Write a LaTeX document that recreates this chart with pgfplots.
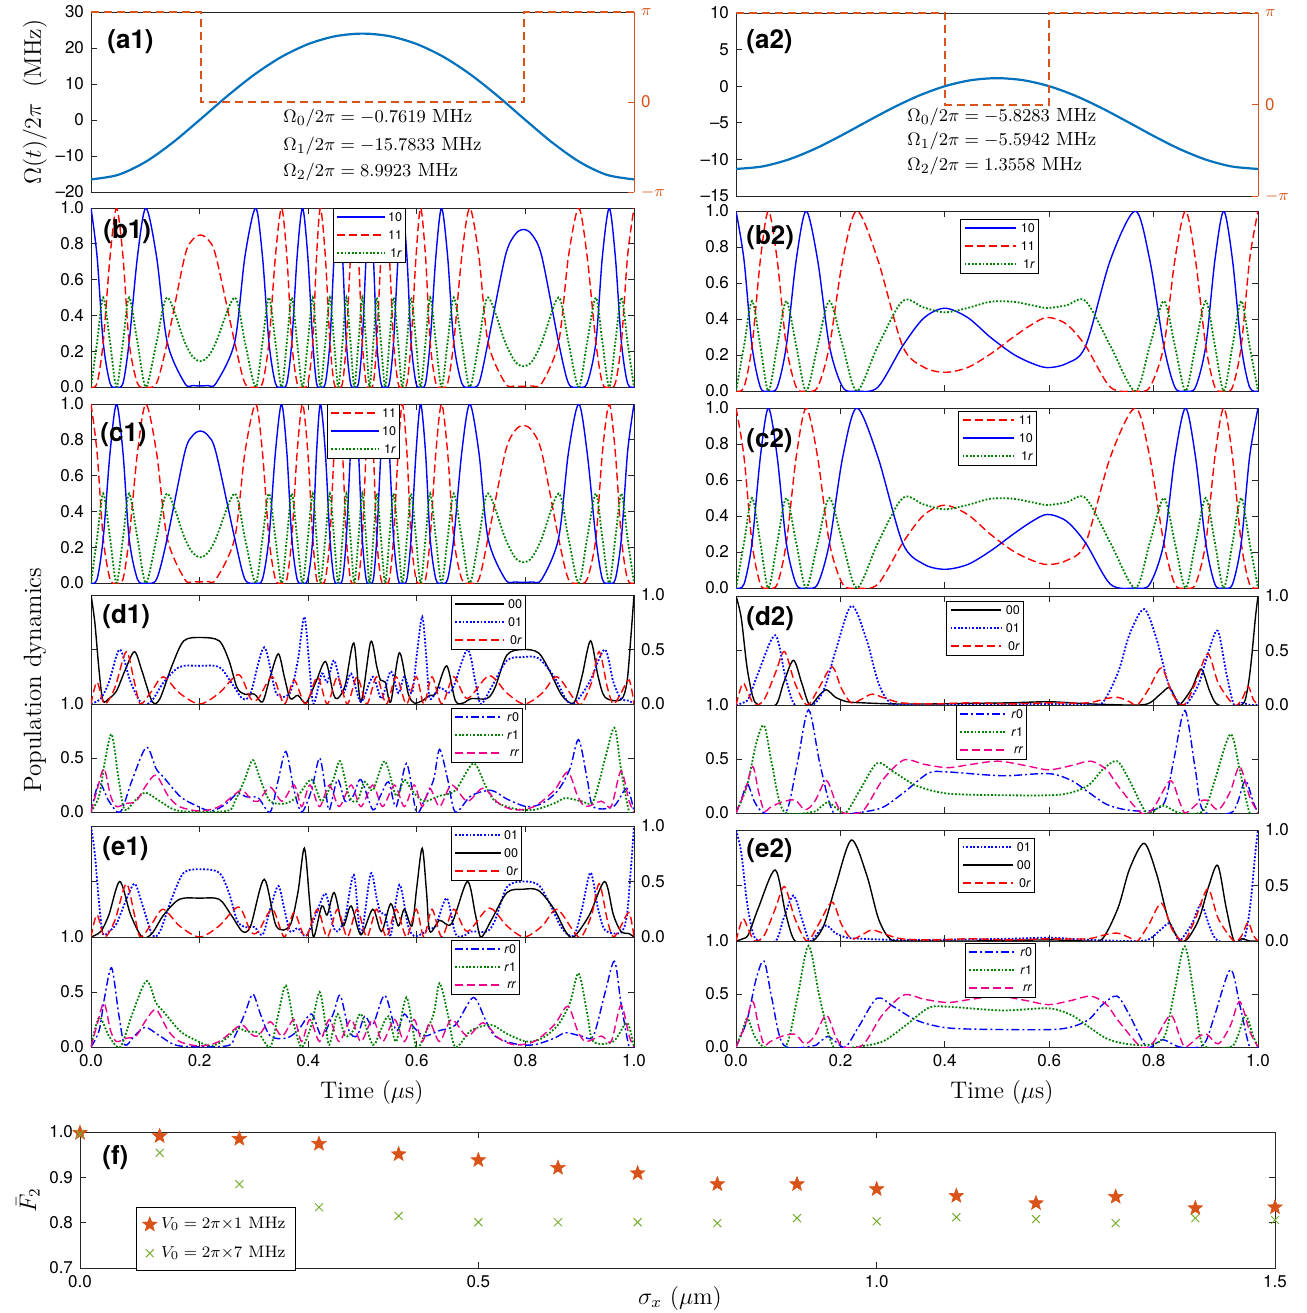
\documentclass[border=0pt]{standalone}
\usepackage{fontspec}
\setsansfont{TeX Gyre Heros}
\usepackage{pgfplots}
\usepackage{pgfplotstable}
\pgfplotsset{compat=1.18}
\definecolor{mblue}{RGB}{0,114,189}
\definecolor{morange}{RGB}{217,83,25}
\definecolor{mgreen}{RGB}{119,172,48}
\definecolor{dgreen}{RGB}{0,128,0}

\pgfdeclareplotmark{fstar}{%
  \pgfpathmoveto{\pgfpointpolar{90}{\pgfplotmarksize}}%
  \pgfpathlineto{\pgfpointpolar{126}{0.42\pgfplotmarksize}}%
  \pgfpathlineto{\pgfpointpolar{162}{\pgfplotmarksize}}%
  \pgfpathlineto{\pgfpointpolar{198}{0.42\pgfplotmarksize}}%
  \pgfpathlineto{\pgfpointpolar{234}{\pgfplotmarksize}}%
  \pgfpathlineto{\pgfpointpolar{270}{0.42\pgfplotmarksize}}%
  \pgfpathlineto{\pgfpointpolar{306}{\pgfplotmarksize}}%
  \pgfpathlineto{\pgfpointpolar{342}{0.42\pgfplotmarksize}}%
  \pgfpathlineto{\pgfpointpolar{18}{\pgfplotmarksize}}%
  \pgfpathlineto{\pgfpointpolar{54}{0.42\pgfplotmarksize}}%
  \pgfpathclose\pgfusepathqfillstroke}

% (b1)/(c1): t, P10, P11, P1r
\pgfplotstableread[row sep=\\]{t a b c\\
0.0000 1 0 0\\ 0.0112 0.729 0.021 0.25\\ 0.0225 0.25 0.25 0.5\\ 0.0351 0.021 0.729 0.25\\ 0.0470 0 1 0\\
0.0589 0.021 0.729 0.25\\ 0.0702 0.25 0.25 0.5\\ 0.0856 0.729 0.021 0.25\\ 0.1011 1 0 0\\ 0.1207 0.729 0.021 0.25\\
0.1404 0.25 0.25 0.5\\ 0.1726 0.021 0.729 0.25\\ 0.1874 0.0085 0.824 0.169\\ 0.2014 0.0061 0.849 0.144\\ 0.2154 0.0085 0.824 0.169\\
0.2302 0.021 0.729 0.25\\ 0.2646 0.25 0.25 0.5\\ 0.2835 0.729 0.021 0.25\\ 0.3032 1 0 0\\ 0.3158 0.729 0.021 0.25\\
0.3277 0.25 0.25 0.5\\ 0.3396 0.021 0.729 0.25\\ 0.3509 0 1 0\\ 0.3607 0.021 0.729 0.25\\ 0.3698 0.25 0.25 0.5\\
0.3796 0.729 0.021 0.25\\ 0.3895 1 0 0\\ 0.3993 0.729 0.021 0.25\\ 0.4084 0.25 0.25 0.5\\ 0.4154 0.021 0.729 0.25\\
0.4225 0 1 0\\ 0.4316 0.021 0.729 0.25\\ 0.4400 0.25 0.25 0.5\\ 0.4477 0.729 0.021 0.25\\ 0.4554 1 0 0\\
0.4632 0.729 0.021 0.25\\ 0.4702 0.25 0.25 0.5\\ 0.4779 0.021 0.729 0.25\\ 0.4849 0 1 0\\ 0.4926 0.021 0.729 0.25\\
0.4996 0.25 0.25 0.5\\ 0.5067 0.729 0.021 0.25\\ 0.5130 1 0 0\\ 0.5200 0.729 0.021 0.25\\ 0.5263 0.25 0.25 0.5\\
0.5340 0.021 0.729 0.25\\ 0.5418 0 1 0\\ 0.5495 0.021 0.729 0.25\\ 0.5572 0.25 0.25 0.5\\ 0.5656 0.729 0.021 0.25\\
0.5733 1 0 0\\ 0.5818 0.729 0.021 0.25\\ 0.5895 0.25 0.25 0.5\\ 0.5986 0.021 0.729 0.25\\ 0.6070 0 1 0\\
0.6161 0.021 0.729 0.25\\ 0.6246 0.25 0.25 0.5\\ 0.6351 0.729 0.021 0.25\\ 0.6456 1 0 0\\ 0.6568 0.729 0.021 0.25\\
0.6681 0.25 0.25 0.5\\ 0.6828 0.021 0.729 0.25\\ 0.6975 0 1 0\\ 0.7144 0.021 0.729 0.25\\ 0.7312 0.25 0.25 0.5\\
0.7628 0.729 0.021 0.25\\ 0.7811 0.852 0.0059 0.142\\ 0.7965 0.880 0.0038 0.116\\ 0.8119 0.852 0.0059 0.142\\ 0.8302 0.729 0.021 0.25\\
0.8611 0.25 0.25 0.5\\ 0.8793 0.021 0.729 0.25\\ 0.8982 0 1 0\\ 0.9137 0.021 0.729 0.25\\ 0.9298 0.25 0.25 0.5\\
0.9418 0.729 0.021 0.25\\ 0.9544 1 0 0\\ 0.9656 0.729 0.021 0.25\\ 0.9768 0.25 0.25 0.5\\ 0.9881 0.021 0.729 0.25\\
1.0000 0 1 0\\
}\tbA

% (b2)/(c2)
\pgfplotstableread[row sep=\\]{t a b c\\
0.0000 1 0 0\\ 0.0153 0.729 0.021 0.25\\ 0.0307 0.25 0.25 0.5\\ 0.0467 0.021 0.729 0.25\\ 0.0621 0 1 0\\
0.0789 0.021 0.729 0.25\\ 0.0964 0.25 0.25 0.5\\ 0.1154 0.729 0.021 0.25\\ 0.1344 1 0 0\\ 0.1563 0.729 0.021 0.25\\
0.1790 0.25 0.25 0.5\\ 0.2045 0.021 0.729 0.25\\ 0.2316 0 1 0\\ 0.2717 0.021 0.729 0.25\\ 0.3192 0.25 0.25 0.5\\
0.3594 0.404 0.133 0.464\\ 0.3996 0.460 0.104 0.437\\ 0.4434 0.409 0.130 0.461\\ 0.4872 0.299 0.205 0.496\\ 0.5310 0.205 0.299 0.496\\
0.5676 0.153 0.371 0.476\\ 0.5968 0.130 0.409 0.461\\ 0.6333 0.153 0.371 0.476\\ 0.6698 0.25 0.25 0.5\\ 0.7173 0.729 0.021 0.25\\
0.7648 1 0 0\\ 0.7926 0.729 0.021 0.25\\ 0.8196 0.25 0.25 0.5\\ 0.8408 0.021 0.729 0.25\\ 0.8612 0 1 0\\
0.8802 0.021 0.729 0.25\\ 0.8999 0.25 0.25 0.5\\ 0.9175 0.729 0.021 0.25\\ 0.9343 1 0 0\\ 0.9511 0.729 0.021 0.25\\
0.9679 0.25 0.25 0.5\\ 0.9839 0.021 0.729 0.25\\ 1.0000 0 1 0\\
}\tbB

% (d1) series
\pgfplotstableread[row sep=\\]{t v\\
0 1.0\\ 0.007 0.75\\ 0.015 0.3\\ 0.022 0.03\\ 0.033 0.05\\ 0.047 0.12\\ 0.062 0.3\\ 0.080 0.48\\ 0.094 0.3\\ 0.113 0.02\\
0.127 0.05\\ 0.149 0.35\\ 0.171 0.58\\ 0.203 0.61\\ 0.236 0.58\\ 0.254 0.4\\ 0.269 0.15\\ 0.283 0.09\\ 0.301 0.09\\ 0.316 0.02\\
0.330 0.25\\ 0.345 0.46\\ 0.356 0.25\\ 0.367 0.05\\ 0.381 0.08\\ 0.396 0.01\\ 0.414 0.2\\ 0.432 0.39\\ 0.446 0.1\\ 0.454 0.05\\
0.468 0.17\\ 0.484 0.56\\ 0.497 0.02\\ 0.515 0.57\\ 0.526 0.35\\ 0.533 0.22\\ 0.542 0.2\\ 0.552 0.02\\ 0.568 0.47\\ 0.584 0.1\\
0.595 0.01\\ 0.610 0.03\\ 0.624 0.08\\ 0.635 0.1\\ 0.655 0.35\\ 0.671 0.03\\ 0.686 0.01\\ 0.700 0.05\\ 0.729 0.05\\ 0.744 0.15\\
0.766 0.45\\ 0.795 0.5\\ 0.824 0.47\\ 0.845 0.3\\ 0.867 0.08\\ 0.889 0.01\\ 0.904 0.25\\ 0.920 0.58\\ 0.934 0.25\\ 0.947 0.06\\
0.976 0.04\\ 0.987 0.2\\ 0.994 0.6\\ 1.0 1.0\\
}\dAzz
\pgfplotstableread[row sep=\\]{t v\\
0 0\\ 0.018 0.05\\ 0.033 0.2\\ 0.053 0.5\\ 0.073 0.2\\ 0.094 0.0\\ 0.112 0.03\\ 0.134 0.2\\ 0.163 0.34\\ 0.200 0.35\\
0.236 0.34\\ 0.258 0.2\\ 0.279 0.05\\ 0.294 0.1\\ 0.319 0.52\\ 0.341 0.1\\ 0.366 0.1\\ 0.381 0.4\\ 0.393 0.8\\ 0.403 0.3\\
0.410 0.0\\ 0.425 0.28\\ 0.435 0.2\\ 0.448 0.4\\ 0.464 0.1\\ 0.479 0.28\\ 0.497 0.02\\ 0.519 0.25\\ 0.535 0.05\\ 0.552 0.3\\
0.566 0.1\\ 0.577 0.25\\ 0.591 0.1\\ 0.600 0.45\\ 0.610 0.8\\ 0.618 0.4\\ 0.624 0.05\\ 0.642 0.15\\ 0.664 0.12\\ 0.693 0.5\\
0.708 0.2\\ 0.718 0.0\\ 0.737 0.15\\ 0.766 0.4\\ 0.795 0.43\\ 0.824 0.42\\ 0.853 0.25\\ 0.874 0.05\\ 0.889 0.0\\ 0.918 0.2\\
0.946 0.5\\ 0.962 0.2\\ 0.976 0.05\\ 0.991 0.03\\ 1.0 0\\
}\dAzo
\pgfplotstableread[row sep=\\]{t v\\
0 0\\ 0.011 0.2\\ 0.025 0.0\\ 0.044 0.15\\ 0.065 0.48\\ 0.080 0.2\\ 0.091 0.0\\ 0.112 0.12\\ 0.133 0.25\\ 0.163 0.1\\
0.200 0.0\\ 0.236 0.1\\ 0.272 0.27\\ 0.294 0.05\\ 0.308 0.05\\ 0.334 0.25\\ 0.356 0.0\\ 0.374 0.22\\ 0.395 0.0\\ 0.417 0.25\\
0.435 0.0\\ 0.454 0.25\\ 0.472 0.0\\ 0.490 0.25\\ 0.508 0.0\\ 0.526 0.25\\ 0.544 0.0\\ 0.562 0.25\\ 0.581 0.0\\ 0.599 0.25\\
0.613 0.0\\ 0.628 0.25\\ 0.646 0.0\\ 0.668 0.25\\ 0.693 0.05\\ 0.733 0.26\\ 0.766 0.1\\ 0.798 0.0\\ 0.831 0.1\\ 0.858 0.25\\
0.889 0.05\\ 0.903 0.0\\ 0.922 0.2\\ 0.936 0.48\\ 0.951 0.15\\ 0.962 0.0\\ 0.976 0.1\\ 0.991 0.22\\ 1.0 0\\
}\dAzr
\pgfplotstableread[row sep=\\]{t v\\
0 0\\ 0.015 0.27\\ 0.033 0.1\\ 0.054 0.0\\ 0.076 0.3\\ 0.102 0.6\\ 0.120 0.4\\ 0.134 0.32\\ 0.163 0.15\\ 0.185 0.08\\
0.221 0.01\\ 0.250 0.08\\ 0.269 0.17\\ 0.287 0.14\\ 0.308 0.13\\ 0.330 0.0\\ 0.345 0.3\\ 0.359 0.56\\ 0.374 0.2\\ 0.388 0.0\\
0.406 0.2\\ 0.421 0.5\\ 0.432 0.2\\ 0.439 0.02\\ 0.454 0.3\\ 0.468 0.1\\ 0.483 0.15\\ 0.497 0.3\\ 0.519 0.02\\ 0.533 0.15\\
0.548 0.28\\ 0.562 0.05\\ 0.581 0.45\\ 0.599 0.0\\ 0.613 0.1\\ 0.631 0.3\\ 0.642 0.58\\ 0.657 0.3\\ 0.671 0.0\\ 0.700 0.15\\
0.737 0.2\\ 0.766 0.12\\ 0.802 0.05\\ 0.831 0.08\\ 0.860 0.2\\ 0.882 0.4\\ 0.898 0.67\\ 0.914 0.3\\ 0.925 0.05\\ 0.962 0.05\\
0.987 0.22\\ 1.0 0\\
}\dAro
\pgfplotstableread[row sep=\\]{t v\\
0 0\\ 0.015 0.15\\ 0.025 0.45\\ 0.038 0.72\\ 0.051 0.3\\ 0.062 0.02\\ 0.080 0.1\\ 0.100 0.18\\ 0.127 0.1\\ 0.163 0.01\\
0.250 0.01\\ 0.265 0.1\\ 0.283 0.3\\ 0.298 0.48\\ 0.312 0.3\\ 0.330 0.1\\ 0.359 0.08\\ 0.381 0.15\\ 0.406 0.3\\ 0.425 0.1\\
0.446 0.3\\ 0.459 0.47\\ 0.475 0.15\\ 0.490 0.1\\ 0.504 0.28\\ 0.519 0.2\\ 0.541 0.47\\ 0.562 0.15\\ 0.577 0.3\\ 0.591 0.2\\
0.613 0.1\\ 0.642 0.15\\ 0.671 0.2\\ 0.704 0.45\\ 0.726 0.25\\ 0.744 0.1\\ 0.780 0.03\\ 0.816 0.02\\ 0.853 0.08\\ 0.874 0.13\\
0.903 0.1\\ 0.925 0.1\\ 0.947 0.5\\ 0.964 0.78\\ 0.976 0.4\\ 0.991 0.0\\ 1.0 0\\
}\dAri
\pgfplotstableread[row sep=\\]{t v\\
0 0\\ 0.011 0.2\\ 0.024 0.4\\ 0.036 0.15\\ 0.047 0.05\\ 0.065 0.08\\ 0.083 0.1\\ 0.102 0.25\\ 0.120 0.34\\ 0.142 0.15\\
0.163 0.05\\ 0.200 0.01\\ 0.236 0.05\\ 0.276 0.2\\ 0.294 0.12\\ 0.308 0.1\\ 0.330 0.23\\ 0.352 0.1\\ 0.374 0.25\\ 0.388 0.05\\
0.403 0.25\\ 0.421 0.05\\ 0.439 0.25\\ 0.457 0.05\\ 0.479 0.25\\ 0.497 0.05\\ 0.519 0.25\\ 0.537 0.05\\ 0.559 0.25\\ 0.577 0.05\\
0.595 0.25\\ 0.610 0.05\\ 0.624 0.22\\ 0.642 0.05\\ 0.664 0.25\\ 0.693 0.1\\ 0.722 0.22\\ 0.751 0.08\\ 0.780 0.02\\ 0.816 0.05\\
0.853 0.2\\ 0.878 0.37\\ 0.896 0.15\\ 0.911 0.05\\ 0.940 0.1\\ 0.958 0.05\\ 0.976 0.38\\ 0.991 0.1\\ 1.0 0\\
}\dArr

% (d2) series
\pgfplotstableread[row sep=\\]{t v\\
0 1.0\\ 0.010 0.8\\ 0.021 0.35\\ 0.032 0.08\\ 0.043 0.0\\ 0.076 0.0\\ 0.091 0.2\\ 0.110 0.41\\ 0.126 0.2\\ 0.141 0.0\\
0.158 0.08\\ 0.173 0.14\\ 0.191 0.07\\ 0.213 0.03\\ 0.243 0.02\\ 0.302 0.01\\ 0.376 0.01\\ 0.450 0.015\\ 0.524 0.02\\ 0.599 0.03\\
0.658 0.015\\ 0.710 0.005\\ 0.784 0.005\\ 0.813 0.1\\ 0.830 0.16\\ 0.843 0.05\\ 0.850 0.0\\ 0.873 0.15\\ 0.891 0.33\\ 0.908 0.12\\
0.924 0.0\\ 0.969 0.0\\ 0.980 0.15\\ 0.987 0.4\\ 0.995 0.8\\ 1.0 1.0\\
}\dBzz
\pgfplotstableread[row sep=\\]{t v\\
0 0\\ 0.013 0.02\\ 0.024 0.06\\ 0.043 0.3\\ 0.075 0.64\\ 0.095 0.25\\ 0.113 0.0\\ 0.147 0.0\\ 0.169 0.15\\ 0.191 0.5\\
0.221 0.91\\ 0.250 0.6\\ 0.273 0.2\\ 0.295 0.02\\ 0.324 0.0\\ 0.450 0.0\\ 0.599 0.01\\ 0.673 0.0\\ 0.702 0.02\\ 0.732 0.3\\
0.754 0.65\\ 0.782 0.88\\ 0.806 0.6\\ 0.828 0.2\\ 0.850 0.01\\ 0.865 0.02\\ 0.887 0.2\\ 0.906 0.5\\ 0.923 0.68\\ 0.939 0.3\\
0.954 0.0\\ 0.969 0.02\\ 0.984 0.0\\ 1.0 0\\
}\dBzo
\pgfplotstableread[row sep=\\]{t v\\
0 0\\ 0.013 0.2\\ 0.024 0.1\\ 0.036 0.0\\ 0.054 0.05\\ 0.076 0.3\\ 0.093 0.49\\ 0.113 0.2\\ 0.136 0.0\\ 0.158 0.15\\
0.184 0.35\\ 0.202 0.15\\ 0.221 0.02\\ 0.243 0.06\\ 0.261 0.1\\ 0.287 0.06\\ 0.317 0.02\\ 0.376 0.01\\ 0.450 0.02\\ 0.524 0.01\\
0.599 0.02\\ 0.673 0.02\\ 0.710 0.06\\ 0.732 0.07\\ 0.754 0.03\\ 0.769 0.0\\ 0.791 0.15\\ 0.815 0.34\\ 0.836 0.1\\ 0.858 0.0\\
0.880 0.2\\ 0.904 0.47\\ 0.924 0.2\\ 0.954 0.0\\ 0.969 0.05\\ 0.981 0.17\\ 0.991 0.05\\ 1.0 0\\
}\dBzr
\pgfplotstableread[row sep=\\]{t v\\
0 0\\ 0.012 0.15\\ 0.022 0.27\\ 0.036 0.1\\ 0.054 0.0\\ 0.095 0.0\\ 0.117 0.45\\ 0.139 0.955\\ 0.161 0.45\\ 0.187 0.0\\
0.228 0.0\\ 0.280 0.05\\ 0.324 0.2\\ 0.369 0.37\\ 0.406 0.38\\ 0.510 0.345\\ 0.599 0.365\\ 0.643 0.3\\ 0.673 0.2\\ 0.710 0.08\\
0.747 0.03\\ 0.791 0.02\\ 0.821 0.1\\ 0.839 0.5\\ 0.860 0.95\\ 0.880 0.4\\ 0.895 0.02\\ 0.947 0.0\\ 0.961 0.1\\ 0.976 0.3\\
0.991 0.1\\ 1.0 0\\
}\dBro
\pgfplotstableread[row sep=\\]{t v\\
0 0\\ 0.021 0.25\\ 0.039 0.65\\ 0.054 0.81\\ 0.069 0.45\\ 0.091 0.02\\ 0.147 0.01\\ 0.161 0.05\\ 0.176 0.1\\ 0.191 0.05\\
0.210 0.0\\ 0.236 0.2\\ 0.270 0.46\\ 0.302 0.38\\ 0.347 0.25\\ 0.406 0.18\\ 0.510 0.165\\ 0.621 0.17\\ 0.673 0.25\\ 0.702 0.4\\
0.730 0.48\\ 0.754 0.3\\ 0.787 0.0\\ 0.817 0.07\\ 0.850 0.0\\ 0.895 0.02\\ 0.917 0.3\\ 0.947 0.73\\ 0.965 0.4\\ 0.984 0.0\\
1.0 0\\
}\dBri
\pgfplotstableread[row sep=\\]{t v\\
0 0\\ 0.017 0.2\\ 0.032 0.43\\ 0.043 0.2\\ 0.054 0.02\\ 0.065 0.05\\ 0.087 0.1\\ 0.113 0.12\\ 0.132 0.03\\ 0.150 0.1\\
0.173 0.3\\ 0.191 0.1\\ 0.206 0.0\\ 0.243 0.02\\ 0.280 0.3\\ 0.321 0.49\\ 0.361 0.45\\ 0.406 0.42\\ 0.450 0.45\\ 0.502 0.48\\
0.554 0.44\\ 0.599 0.4\\ 0.643 0.44\\ 0.680 0.48\\ 0.710 0.4\\ 0.732 0.25\\ 0.776 0.0\\ 0.799 0.04\\ 0.832 0.3\\ 0.850 0.1\\
0.861 0.0\\ 0.887 0.1\\ 0.902 0.12\\ 0.924 0.03\\ 0.947 0.2\\ 0.965 0.43\\ 0.984 0.15\\ 1.0 0\\
}\dBrr

\pgfplotsset{
  base/.style={scale only axis, anchor=north west, xmin=0, xmax=1,
    axis line style={line width=0.4pt, black!85}, tick style={line width=0.4pt, black!85},
    major tick length=3pt, tick align=inside,
    tick label style={font=\sffamily\fontsize{8.5}{10}\selectfont},
    /pgf/number format/assume math mode=true,
    every axis plot/.append style={line width=0.7pt, smooth},
    xtick={0,0.2,0.4,0.6,0.8,1}, xticklabels={}},
  pb/.style={base, ymin=0, ymax=1, ytick={0,0.2,0.4,0.6,0.8,1}, yticklabels={0.0,0.2,0.4,0.6,0.8,1.0}},
  pu/.style={base, ymin=0, ymax=1, ytick={0,0.5,1}, yticklabels={0.0,0.5,1.0}, yticklabel pos=right},
  pl/.style={base, ymin=0, ymax=1, ytick={0,0.5,1}, yticklabels={0.0,0.5,1.0}},
  legax/.style={scale only axis, anchor=north west, xmin=0, xmax=1, ymin=0, ymax=1,
    xtick=\empty, ytick=\empty, axis line style={line width=0.4pt, black},
    axis background/.style={fill=white}, clip=false},
}
\tikzset{
  s10/.style={draw=blue, line width=0.7pt, solid},
  s11/.style={draw=red, line width=0.7pt, dash pattern=on 4pt off 2pt},
  s1r/.style={draw=dgreen, line width=0.9pt, dash pattern=on 0.9pt off 0.9pt},
  s00/.style={draw=black, line width=0.7pt, solid},
  s01/.style={draw=blue, line width=0.9pt, dash pattern=on 0.9pt off 0.9pt},
  s0r/.style={draw=red, line width=0.7pt, dash pattern=on 4pt off 2pt},
  sr0/.style={draw=blue, line width=0.7pt, dash pattern=on 4pt off 1.5pt on 1pt off 1.5pt},
  sr1/.style={draw=dgreen, line width=0.9pt, dash pattern=on 0.9pt off 0.9pt},
  srr/.style={draw=magenta, line width=0.7pt, dash pattern=on 4pt off 2pt},
  plab/.style={font=\sffamily\bfseries\fontsize{13}{13}\selectfont, anchor=west, inner sep=0pt},
  legtxt/.style={anchor=east, inner sep=0pt, font=\sffamily\fontsize{6.3}{6.3}\selectfont},
}
% legend as a small pgfplots axis: x, y (top-left), width, style/text x3
\newcommand{\legax}[9]{%
\begin{axis}[legax, at={(#1,#2)}, width=#3, height=27pt]
\addplot[#4, sharp plot] coordinates {(0.06,0.833) (0.72,0.833)};
\addplot[#6, sharp plot] coordinates {(0.06,0.5) (0.72,0.5)};
\addplot[#8, sharp plot] coordinates {(0.06,0.167) (0.72,0.167)};
\node[legtxt] at (axis cs:0.965,0.833) {#5};
\node[legtxt] at (axis cs:0.965,0.5) {#7};
\node[legtxt] at (axis cs:0.965,0.167) {#9};
\end{axis}}

\begin{document}
\begin{tikzpicture}
% ---------- (a1)
\begin{axis}[base, at={(45.5pt,-6pt)}, width=271.5pt, height=90pt, ymin=-20, ymax=30,
  ytick={-20,-10,0,10,20,30}, yticklabels={\textendash20,\textendash10,0,10,20,30},
  xtick=\empty, axis y line*=left]
\addplot[draw=mblue, line width=1.1pt] coordinates {(0,-16.50) (0.05,-15.24) (0.1,-11.67) (0.15,-6.33) (0.2,0.0) (0.25,6.53) (0.3,12.52) (0.35,17.47) (0.4,21.09) (0.45,23.28) (0.5,24.0) (0.55,23.28) (0.6,21.09) (0.65,17.47) (0.7,12.52) (0.75,6.53) (0.8,0.0) (0.85,-6.33) (0.9,-11.67) (0.95,-15.24) (1.0,-16.50)};
\end{axis}
\begin{axis}[base, at={(45.5pt,-6pt)}, width=271.5pt, height=90pt, axis x line=none, axis y line*=right,
  ymin=-3.1416, ymax=3.1416, ytick={-3.1416,0,3.1416}, yticklabels={$-\pi$,0,$\pi$},
  y axis line style={morange, line width=0.5pt}, ytick style={morange}, yticklabel style={morange}, clip=false]
\addplot[draw=morange, sharp plot, line width=1pt, dash pattern=on 4pt off 2.5pt] coordinates {(0,3.1416) (0.203,3.1416) (0.203,0) (0.797,0) (0.797,3.1416) (1,3.1416)};
\end{axis}
% ---------- (a2)
\begin{axis}[base, at={(368pt,-6.5pt)}, width=261pt, height=91.5pt, ymin=-15, ymax=10,
  ytick={-15,-10,-5,0,5,10}, yticklabels={\textendash15,\textendash10,\textendash5,0,5,10},
  xtick=\empty, axis y line*=left]
\addplot[draw=mblue, line width=1.1pt] coordinates {(0,-11.30) (0.05,-10.97) (0.1,-10.03) (0.15,-8.59) (0.2,-6.80) (0.25,-4.86) (0.3,-2.97) (0.35,-1.30) (0.4,0.0) (0.45,0.82) (0.5,1.10) (0.55,0.82) (0.6,0.0) (0.65,-1.30) (0.7,-2.97) (0.75,-4.86) (0.8,-6.80) (0.85,-8.59) (0.9,-10.03) (0.95,-10.97) (1.0,-11.30)};
\end{axis}
\begin{axis}[base, at={(368pt,-6.5pt)}, width=261pt, height=91.5pt, axis x line=none, axis y line*=right,
  ymin=-3.1416, ymax=3.1416, ytick={-3.1416,0,3.1416}, yticklabels={$-\pi$,0,$\pi$},
  y axis line style={morange, line width=0.5pt}, ytick style={morange}, yticklabel style={morange}, clip=false]
\addplot[draw=morange, sharp plot, line width=1pt, dash pattern=on 4pt off 2.5pt] coordinates {(0,3.1416) (0.40,3.1416) (0.40,0) (0.60,0) (0.60,3.1416) (1,3.1416)};
\end{axis}
% ---------- (b1)
\begin{axis}[pb, at={(45.5pt,-104pt)}, width=271.5pt, height=89.5pt]
\addplot[s10] table[x=t,y=a]{\tbA};
\addplot[s11] table[x=t,y=b]{\tbA};
\addplot[s1r] table[x=t,y=c]{\tbA};
\end{axis}
% ---------- (b2)
\begin{axis}[pb, at={(368pt,-105.5pt)}, width=261pt, height=90pt]
\addplot[s10] table[x=t,y=a]{\tbB};
\addplot[s11] table[x=t,y=b]{\tbB};
\addplot[s1r] table[x=t,y=c]{\tbB};
\end{axis}
% ---------- (c1)
\begin{axis}[pb, at={(45.5pt,-202pt)}, width=271.5pt, height=89.5pt]
\addplot[s11] table[x=t,y=a]{\tbA};
\addplot[s10] table[x=t,y=b]{\tbA};
\addplot[s1r] table[x=t,y=c]{\tbA};
\end{axis}
% ---------- (c2)
\begin{axis}[pb, at={(368pt,-204pt)}, width=261pt, height=90pt]
\addplot[s11] table[x=t,y=a]{\tbB};
\addplot[s10] table[x=t,y=b]{\tbB};
\addplot[s1r] table[x=t,y=c]{\tbB};
\end{axis}
% ---------- (d1)
\begin{axis}[pu, at={(45.5pt,-297.5pt)}, width=271.5pt, height=54.5pt]
\addplot[s00] table[x=t,y=v]{\dAzz};
\addplot[s01] table[x=t,y=v]{\dAzo};
\addplot[s0r] table[x=t,y=v]{\dAzr};
\end{axis}
\begin{axis}[pl, at={(45.5pt,-352pt)}, width=271.5pt, height=54pt]
\addplot[sr0] table[x=t,y=v]{\dAro};
\addplot[sr1] table[x=t,y=v]{\dAri};
\addplot[srr] table[x=t,y=v]{\dArr};
\end{axis}
% ---------- (d2)
\begin{axis}[pu, at={(368pt,-298pt)}, width=261pt, height=54.5pt]
\addplot[s00] table[x=t,y=v]{\dBzz};
\addplot[s01] table[x=t,y=v]{\dBzo};
\addplot[s0r] table[x=t,y=v]{\dBzr};
\end{axis}
\begin{axis}[pl, at={(368pt,-352.5pt)}, width=261pt, height=54pt]
\addplot[sr0] table[x=t,y=v]{\dBro};
\addplot[sr1] table[x=t,y=v]{\dBri};
\addplot[srr] table[x=t,y=v]{\dBrr};
\end{axis}
% ---------- (e1)
\begin{axis}[pu, at={(45.5pt,-413pt)}, width=271.5pt, height=55.5pt]
\addplot[s01] table[x=t,y=v]{\dAzz};
\addplot[s00] table[x=t,y=v]{\dAzo};
\addplot[s0r] table[x=t,y=v]{\dAzr};
\end{axis}
\begin{axis}[pl, at={(45.5pt,-468.5pt)}, width=271.5pt, height=55pt, xticklabels={0.0,0.2,0.4,0.6,0.8,1.0}]
\addplot[sr0] table[x=t,y=v]{\dAri};
\addplot[sr1] table[x=t,y=v]{\dAro};
\addplot[srr] table[x=t,y=v]{\dArr};
\end{axis}
% ---------- (e2)
\begin{axis}[pu, at={(368pt,-415pt)}, width=261pt, height=55.5pt]
\addplot[s01] table[x=t,y=v]{\dBzz};
\addplot[s00] table[x=t,y=v]{\dBzo};
\addplot[s0r] table[x=t,y=v]{\dBzr};
\end{axis}
\begin{axis}[pl, at={(368pt,-470.5pt)}, width=261pt, height=53pt, xticklabels={0.0,0.2,0.4,0.6,0.8,1.0}]
\addplot[sr0] table[x=t,y=v]{\dBri};
\addplot[sr1] table[x=t,y=v]{\dBro};
\addplot[srr] table[x=t,y=v]{\dBrr};
\end{axis}
% ---------- (f)
\begin{axis}[base, at={(40pt,-566pt)}, width=597.5pt, height=68pt, xmin=0, xmax=1.5, ymin=0.7, ymax=1.0,
  xtick={0,0.5,1,1.5}, xticklabels={0.0,0.5,1.0,1.5}, ytick={0.7,0.8,0.9,1.0}, yticklabels={0.7,0.8,0.9,1.0},
  legend style={at={(0.047,0.449)}, anchor=north west, font=\fontsize{8.3}{9}\selectfont,
    inner sep=3pt, row sep=3.2pt, legend cell align=left, /tikz/every even column/.append style={column sep=2pt}}]
\addplot[only marks, mark=fstar, mark size=3.8pt, mark options={fill=morange, draw=morange, line width=0.3pt}] coordinates {
 (0,0.998) (0.1,0.991) (0.2,0.985) (0.3,0.974) (0.4,0.951) (0.5,0.938) (0.6,0.921) (0.7,0.909)
 (0.8,0.885) (0.9,0.885) (1.0,0.874) (1.1,0.859) (1.2,0.843) (1.3,0.857) (1.4,0.832) (1.5,0.834)};
\addlegendentry{$V_0 = 2\pi{\times}1$ MHz}
\addplot[only marks, mark=x, mark size=2.8pt, mark options={draw=mgreen, line width=0.5pt}] coordinates {
 (0,0.996) (0.1,0.954) (0.2,0.885) (0.3,0.834) (0.4,0.815) (0.5,0.801) (0.6,0.801) (0.7,0.801)
 (0.8,0.799) (0.9,0.810) (1.0,0.803) (1.1,0.812) (1.2,0.808) (1.3,0.799) (1.4,0.810) (1.5,0.806)};
\addlegendentry{$V_0 = 2\pi{\times}7$ MHz}
\end{axis}
% ---------- legends of (b)-(e)
\legax{166.5pt}{-104pt}{36pt}{s10}{10}{s11}{11}{s1r}{1\textit{r}}
\legax{480pt}{-109.5pt}{39pt}{s10}{10}{s11}{11}{s1r}{1\textit{r}}
\legax{163.5pt}{-202pt}{36pt}{s11}{11}{s10}{10}{s1r}{1\textit{r}}
\legax{479pt}{-205.5pt}{39pt}{s11}{11}{s10}{10}{s1r}{1\textit{r}}
\legax{225.5pt}{-297.5pt}{37pt}{s00}{00}{s01}{01}{s0r}{0\textit{r}}
\legax{225.5pt}{-354pt}{35.5pt}{sr0}{\textit{r}0}{sr1}{\textit{r}1}{srr}{\textit{rr}}
\legax{473pt}{-300.5pt}{38.5pt}{s00}{00}{s01}{01}{s0r}{0\textit{r}}
\legax{478pt}{-352.5pt}{35pt}{sr0}{\textit{r}0}{sr1}{\textit{r}1}{srr}{\textit{rr}}
\legax{225.5pt}{-413pt}{35pt}{s01}{01}{s00}{00}{s0r}{0\textit{r}}
\legax{225.5pt}{-470pt}{34pt}{sr0}{\textit{r}0}{sr1}{\textit{r}1}{srr}{\textit{rr}}
\legax{479pt}{-419pt}{38pt}{s01}{01}{s00}{00}{s0r}{0\textit{r}}
\legax{482.5pt}{-471.5pt}{35pt}{sr0}{\textit{r}0}{sr1}{\textit{r}1}{srr}{\textit{rr}}
% ---------- texts
\node[plab] at (53.5pt,-21pt) {(a1)};
\node[plab] at (373pt,-21pt) {(a2)};
\node[plab] at (51.5pt,-116pt) {(b1)};
\node[plab] at (373pt,-119pt) {(b2)};
\node[plab] at (50pt,-217.5pt) {(c1)};
\node[plab] at (373pt,-220.5pt) {(c2)};
\node[plab] at (51pt,-308.5pt) {(d1)};
\node[plab] at (373pt,-309.5pt) {(d2)};
\node[plab] at (51pt,-424.5pt) {(e1)};
\node[plab] at (373pt,-425.5pt) {(e2)};
\node[plab] at (51pt,-579pt) {(f)};
\begin{scope}[every node/.style={anchor=west, inner sep=0pt, font=\fontsize{9.5}{11}\selectfont}]
\node at (141.5pt,-59pt) {$\Omega_0/2\pi = -0.7619$ MHz};
\node at (141.5pt,-73pt) {$\Omega_1/2\pi = -15.7833$ MHz};
\node at (141.5pt,-86pt) {$\Omega_2/2\pi = 8.9923$ MHz};
\node at (453.5pt,-58.5pt) {$\Omega_0/2\pi = -5.8283$ MHz};
\node at (453.5pt,-70.5pt) {$\Omega_1/2\pi = -5.5942$ MHz};
\node at (453.5pt,-83pt) {$\Omega_2/2\pi = 1.3558$ MHz};
\end{scope}
\node[rotate=90, font=\fontsize{12}{14}\selectfont] at (17.5pt,-51pt) {$\Omega(t)/2\pi$\ \ (MHz)};
\node[rotate=90, font=\fontsize{12.5}{14}\selectfont] at (17.5pt,-340pt) {Population dynamics};
\node[font=\fontsize{12}{14}\selectfont] at (186pt,-546pt) {Time ($\mu$s)};
\node[font=\fontsize{12}{14}\selectfont] at (501pt,-546pt) {Time ($\mu$s)};
\node[font=\fontsize{12}{14}\selectfont] at (340pt,-649pt) {$\sigma_x$ ($\mu$m)};
\node[rotate=90, font=\fontsize{12}{14}\selectfont] at (14pt,-600pt) {$\bar{F}_2$};
\pgfresetboundingbox
\path[use as bounding box] (0,0) rectangle (653.5pt,-656.5pt);
\end{tikzpicture}
\end{document}
